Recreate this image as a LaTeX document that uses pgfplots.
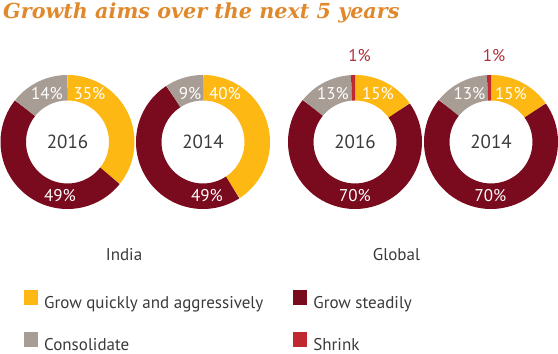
\documentclass[border=0pt]{standalone}
\usepackage{pgfplots}
\pgfplotsset{compat=1.18}
\usepackage{fontspec}
\setmainfont{PT Sans}
\newfontfamily\titlefont{DejaVu Serif}
\definecolor{cY}{HTML}{FDB813}
\definecolor{cR}{HTML}{7A0A1D}
\definecolor{cG}{HTML}{A89D94}
\definecolor{cS}{HTML}{C0282F}
\definecolor{cT}{HTML}{E0892C}
\definecolor{cTxt}{HTML}{3A3A3A}
\definecolor{cOne}{HTML}{B0303A}

% donut: cx, cy, grow quickly, grow steadily, consolidate, shrink
\newcommand{\donut}[6]{%
  \pgfmathsetmacro\tot{#3+#4+#5+#6}%
  \pgfmathsetmacro\k{360/\tot}%
  \pgfmathsetmacro\aA{90}%
  \pgfmathsetmacro\aB{90-\k*#3}%
  \pgfmathsetmacro\aC{\aB-\k*#4}%
  \pgfmathsetmacro\aD{\aC-\k*#5}%
  \pgfmathsetmacro\aE{\aD-\k*#6}%
  \edef\tmp{\noexpand\addplot[ring,draw=cY,domain=\aA:\aB] ({#1+54.25*cos(x)},{#2+54.25*sin(x)});}\tmp
  \edef\tmp{\noexpand\addplot[ring,draw=cR,domain=\aB:\aC] ({#1+54.25*cos(x)},{#2+54.25*sin(x)});}\tmp
  \edef\tmp{\noexpand\addplot[ring,draw=cG,domain=\aC:\aD] ({#1+54.25*cos(x)},{#2+54.25*sin(x)});}\tmp
  \ifdim #6pt>0pt
  \edef\tmp{\noexpand\addplot[ring,draw=cS,domain=\aD:\aE] ({#1+54.25*cos(x)},{#2+54.25*sin(x)});}\tmp
  \fi
}

\begin{document}
\begin{tikzpicture}
\useasboundingbox (0,0) rectangle (558bp,354bp);
\begin{axis}[
  width=558bp, height=354bp, scale only axis,
  xmin=0, xmax=558, ymin=0, ymax=354,
  hide axis, clip=false, no markers,
  ring/.style={line width=25.5bp, line cap=butt, samples=60, forget plot},
  sq legend/.style={legend image code/.code={\fill[##1] (0bp,-1bp) rectangle (14bp,14bp);}},
  legend columns=2,
  legend cell align=left,
  legend style={draw=none, fill=none, inner sep=0pt, at={(axis cs:24,64)}, anchor=north west,
    font=\fontsize{17bp}{20bp}\selectfont\color{cTxt},
    nodes={inner sep=0pt, text height=12bp, text depth=4bp},
    column sep=6bp, row sep=20bp,
    /tikz/every even column/.append style={column sep=30bp}},
]
\addlegendimage{sq legend, fill=cY, draw=none}
\addlegendentry{Grow quickly and aggressively}
\addlegendimage{sq legend, fill=cR, draw=none}
\addlegendentry{Grow steadily}
\addlegendimage{sq legend, fill=cG, draw=none}
\addlegendentry{Consolidate}
\addlegendimage{sq legend, fill=cS, draw=none}
\addlegendentry{Shrink}

\donut{67.5}{212}{35}{49}{14}{0}
\donut{203}{212}{40}{49}{9}{0}
\donut{355}{212}{15}{70}{13}{1}
\donut{491}{212}{15}{70}{13}{1}

% title
\node[anchor=base west, text=cT, font=\titlefont\bfseries\itshape\fontsize{20.7bp}{24bp}\selectfont, inner sep=0pt]
  at (axis cs:3,335.5) {Growth aims over the next 5 years};

% percentage labels
\tikzset{pl/.style={text=white, font=\fontsize{17bp}{20bp}\selectfont, inner sep=0pt}}
\node[pl] at (axis cs:89.5,260) {35\%};
\node[pl] at (axis cs:47,260) {14\%};
\node[pl] at (axis cs:60,158) {49\%};
\node[pl] at (axis cs:190,260) {9\%};
\node[pl] at (axis cs:225,260) {40\%};
\node[pl] at (axis cs:207,158) {49\%};
\node[pl] at (axis cs:333,260) {13\%};
\node[pl] at (axis cs:378,260) {15\%};
\node[pl] at (axis cs:355,158) {70\%};
\node[pl] at (axis cs:469.5,260) {13\%};
\node[pl] at (axis cs:511,260) {15\%};
\node[pl] at (axis cs:490.5,158) {70\%};
\node[pl, text=cOne] at (axis cs:359.5,298) {1\%};
\node[pl, text=cOne] at (axis cs:494,298) {1\%};

% year labels
\tikzset{yl/.style={text=cTxt, font=\fontsize{19bp}{22bp}\selectfont, inner sep=0pt}}
\node[yl] at (axis cs:67.5,212) {2016};
\node[yl] at (axis cs:203,212) {2014};
\node[yl] at (axis cs:355,212) {2016};
\node[yl] at (axis cs:491,212) {2014};

% group labels
\node[yl, font=\fontsize{17bp}{20bp}\selectfont] at (axis cs:124,99.5) {India};
\node[yl, font=\fontsize{17bp}{20bp}\selectfont] at (axis cs:396.5,99.5) {Global};
\end{axis}
\end{tikzpicture}
\end{document}
